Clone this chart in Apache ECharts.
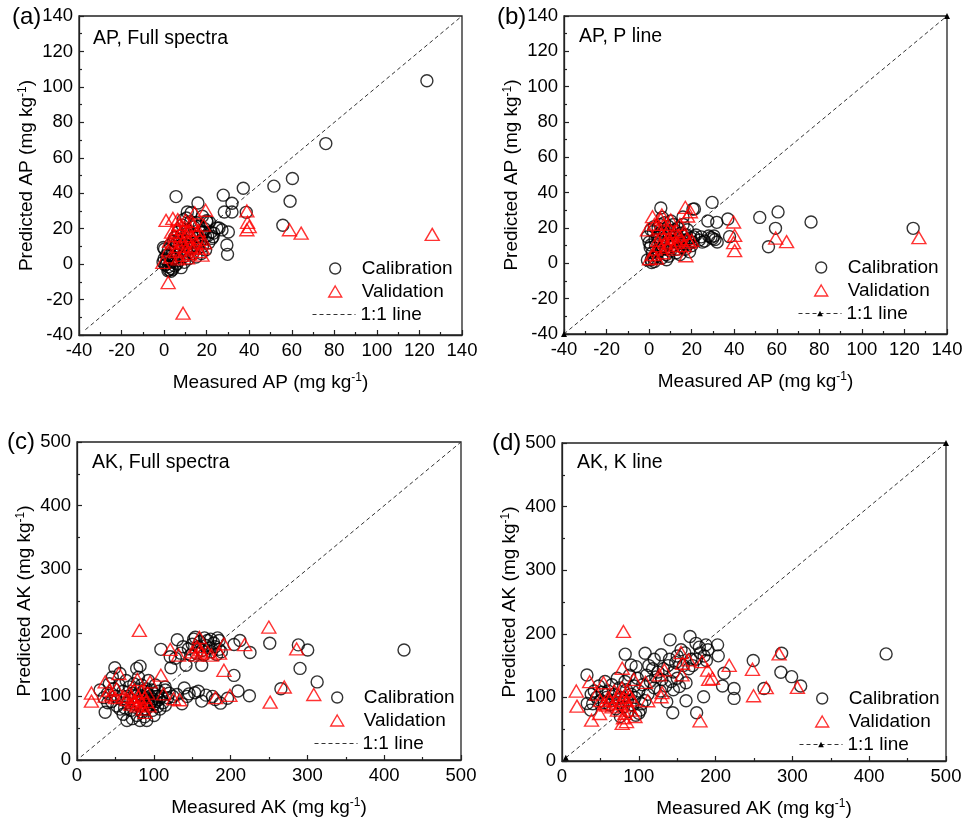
<!DOCTYPE html>
<html><head><meta charset="utf-8">
<script src="https://cdn.jsdelivr.net/npm/echarts@6/dist/echarts.min.js"></script>
<style>html,body{margin:0;padding:0;background:#fff}#c{width:968px;height:825px}</style>
</head><body><div id="c"></div>
<script>
// ---------- tick labels ----------
const ticksAP = [-40, -20, 0, 20, 40, 60, 80, 100, 120, 140];
const ticksAK = [0, 100, 200, 300, 400, 500];

// ---------- 1:1 lines ----------
const lineA = [[-37, -37], [140, 140]];
const lineB = [[-40, -40], [140, 140]];
const lineC = [[5, 5], [500, 500]];
const lineD = [[5, 5], [500, 500]];

// ---------- (a) AP, Full spectra ----------
const calA = [[123.5,103.5],[76,68],[60.3,48.3],[51.6,44],[59.2,35.5],[55.8,21.9],[37.2,42.8],[38.6,29.2],[27.8,38.9],[31.9,34.3],[31.9,29.4],[28.3,29.4],[30.2,18.1],[29.5,10.8],[29.8,5.5],[5.6,38.1],[15.9,34.5],[10.9,29.4],[25.8,20.4],[23.3,17.5],[21.3,23.6],[19.4,15.7],[-0.3,9.4],[2.2,-3.2],[27.2,19.3],[22.5,14.5],[24.8,20.4],[20.2,23.8],[18.5,18],[17,13],[16,9],[14.5,12],[13,16],[12,9],[11,6],[10,11],[9,4],[8,8],[7.5,14],[7,2],[6,5],[5.5,10],[5,-1],[4.5,3],[4,7],[3.5,-2.5],[3,1],[2.5,5],[2,-1.5],[1.5,2],[1,0],[0.5,-0.5],[0,3],[-0.5,1],[0.2,8.5],[1.8,-3.8],[3.2,-4],[6.5,18],[8.5,22],[10.5,17],[12.5,24],[14,21],[9.5,13.5],[11.5,3],[13.5,6],[15,4],[17.5,6],[18,10],[19.5,8],[20,24.5],[21,12],[22,18],[23,15.5],[16.5,21.5],[18,27],[7,10],[5,15],[3,11],[2,8],[1,5],[4,-3],[6,0],[8,-2],[9.5,1],[10,7.5],[12,12.5],[13.5,10],[16,15.5],[17,18],[19,20],[20.5,16],[11,19],[8,16],[6,12],[4.5,13],[14.5,17],[15,23.5],[10.5,26],[12.7,29],[9,25]];
const valA = [[126,16.8],[64.4,17.5],[58.9,19.4],[38.9,30],[39.2,23.6],[40,21.1],[38.9,19.4],[8.9,-27.7],[1.9,-10.4],[0.9,24.7],[4.1,25.8],[6.4,25.1],[10,24.7],[14.4,28.9],[19.5,30.4],[-0.6,1],[17.8,5.1],[15.2,17.5],[2,8],[3,4],[4,12],[5,16],[5.5,7],[6,20],[7,10],[7.5,14],[8,18],[8.5,5],[9,12],[9.5,21],[10,8],[10.5,16],[11,13],[11.5,19],[12,6],[12.5,10],[13,15],[13.5,22],[14,9],[15,12],[16,19],[16.5,7],[17,14],[18,9],[18.5,22],[19,12],[3.5,18],[6.5,3],[2.5,13],[7,22.5],[11,3.5],[13,24]];

// ---------- (b) AP, P line ----------
const calB = [[124.1,19.8],[76.1,23.4],[60.6,29.1],[59.4,19.8],[56.1,9.4],[52,26],[37,25.1],[37.8,15.1],[29.6,34.5],[31.8,23.2],[32,12.1],[27.6,24],[29.1,14.7],[29.9,14],[26.1,12.6],[21.3,30.8],[5.5,31.3],[22,16],[23.6,13.2],[24.5,15],[25,12],[28,15.5],[30.5,15.5],[31,13.5],[20.5,12],[19.5,14.5],[18.5,11],[17.5,16],[16.5,13],[15.5,9],[15,17],[14,12],[13,8],[12.5,15],[12,19],[11,10],[10.5,13],[10,7],[9.5,16],[9,21],[8.5,11],[8,5],[7.5,14],[7,18],[6.5,9],[6,3],[5.5,12],[5,22],[4.5,7],[4,15],[3.5,4],[3,10],[2.5,1],[2,18],[1.5,6],[1,2],[0.5,9],[0,12],[-0.8,15],[0.8,19],[1.2,0.5],[2.2,3],[2.4,20.8],[4.2,20],[6.2,26],[7.2,23],[8.2,2],[9.2,4],[10.2,24],[11.5,22],[12.8,6],[13.5,20],[14.5,5],[16,22],[17,8],[18,19],[19,6.5],[20,10],[21,15],[15.9,26.2],[20.6,30.7],[2.8,13.5],[5.2,17],[7.8,8],[9.8,18.5],[11.8,12],[13.8,14],[16.2,11],[18.2,13.5],[-0.8,1.9],[0.8,10.4]];
const valB = [[126.8,14.5],[64.6,12.3],[59.5,14.3],[39.7,23.4],[40.2,15.8],[39.7,11.7],[40.2,7.2],[17.3,4.3],[17,31.7],[19.4,29.2],[18.1,26.8],[-0.8,18.9],[1.6,26.4],[6,27.4],[10.2,24.5],[0.2,2.6],[2,5],[3,8],[4,13],[4.5,20],[5,10],[6,16],[6.5,6],[7,22],[7.5,12],[8,17],[8.5,9],[9,14],[9.5,20],[10,11],[11,15],[11.5,8],[12,18],[13,12],[14,16],[15,13],[16,17],[16.5,10],[18,14],[19,12],[20,13],[2.5,22],[3.5,3],[5.5,25],[14.5,22],[12.5,10]];

// ---------- (c) AK, Full spectra ----------
const calC = [[425.8,173],[251,183.6],[288.2,181],[300.4,173],[290.4,144],[312.7,122.8],[265.5,112],[224.5,101],[225.3,169],[212.2,187.8],[204.4,181.5],[204.4,133],[209.6,108.5],[185.2,188],[186.9,89.4],[176.4,100],[162.4,92.6],[162.4,149],[154,193],[130.6,189],[109.2,174],[121.4,162.4],[122.3,145],[141.9,149],[139.7,113.2],[153.3,105.8],[143.2,100],[136.7,88.4],[114.8,114.8],[36.7,75],[49.3,145],[55.9,136],[77.7,144],[82.1,147.6],[65,62],[82,62],[90.8,62],[100.4,70],[145,175],[150,182],[155,168],[158,178],[160,186],[163,172],[165,165],[168,180],[170,188],[172,176],[175,170],[178,184],[180,178],[182,166],[185,174],[188,170],[148,165],[152,190],[166,192],[174,190],[138,178],[135,168],[128,160],[183,192],[115,110],[120,105],[125,100],[130,103],[146,104],[158,108],[168,102],[196,97],[180,95],[30,110],[35,98],[40,105],[42,120],[45,92],[48,112],[50,100],[52,85],[55,118],[58,95],[60,108],[62,82],[64,125],[65,100],[66,90],[68,115],[70,78],[70,95],[72,105],[74,120],[75,88],[76,100],[78,70],[78,110],[80,92],[80,130],[82,85],[83,102],[84,118],[85,75],[86,95],[87,108],[88,88],[89,98],[90,80],[90,112],[91,104],[92,93],[93,125],[94,85],[95,100],[96,90],[97,110],[98,78],[99,96],[100,105],[101,88],[102,118],[103,92],[104,100],[105,84],[106,108],[107,95],[108,80],[110,100],[112,90],[115,86],[118,98],[72,65],[88,68],[60,72],[56,80],[46,130],[40,90]];
const valC = [[81.2,203.7],[249.8,209],[286,174.6],[269.9,114.8],[251.5,91],[308.3,103],[218.3,181.5],[199.1,101.6],[191.3,141],[191.3,182.5],[185.6,168],[180.3,98],[159.4,192.6],[156.3,178.3],[160.7,173],[132.3,165],[121.4,174],[109.2,133.3],[112.7,104],[125.8,96.3],[133.6,94.7],[95.2,122.8],[78.6,126.5],[54.6,136],[36.7,122.8],[18.8,105.3],[18.8,92.6],[36.7,100.5],[51.5,112],[88.6,75],[73.4,91],[60,100],[65,95],[68,105],[70,88],[72,98],[75,110],[76,92],[78,85],[80,100],[82,95],[84,108],[85,88],[86,80],[88,98],[90,92],[92,105],[94,85],[45,103],[50,98],[42,110],[155,165],[162,168],[170,170],[175,165],[150,170]];

// ---------- (d) AK, K line ----------
const calD = [[422,168.4],[286,169.5],[285,139.5],[299,132.6],[310.8,118],[263,114],[249,158],[224,98.4],[224,114],[209,118],[211,138],[202.6,182.6],[203.5,165.3],[187.4,182.6],[184.4,101],[175.3,75.8],[161.5,94.7],[166.7,195.8],[174.5,185],[178.8,179],[140.7,190.5],[144.2,75.8],[136.4,93],[108.2,169.5],[82.3,168],[90,151],[96.5,148.4],[32.5,135.3],[32.9,90.5],[37.2,80],[129,167],[152.8,117],[161.5,123],[180,170],[175,160],[170,150],[165,145],[160,170],[155,175],[150,165],[148,155],[145,140],[142,125],[140,160],[138,150],[135,118],[132,145],[130,128],[128,110],[125,140],[122,132],[120,115],[118,145],[115,125],[112,105],[110,135],[108,95],[105,120],[102,80],[100,110],[98,130],[96,72],[95,100],[94,118],[92,88],[90,105],[88,135],[86,78],[85,95],[84,112],[82,125],[80,85],[78,100],[76,70],[75,115],[74,92],[72,130],[70,82],[68,105],[66,95],[65,120],[62,88],[60,110],[58,100],[56,125],[55,92],[52,108],[50,95],[48,118],[45,100],[42,110],[40,90],[38,105],[100,75],[104,90],[150,130],[158,150],[168,160],[185,165],[190,175],[120,160],[113,150],[145,112],[188,158]];
const valD = [[80,203.7],[18.6,110],[19.5,86.3],[38.5,64.2],[36,124.7],[48.9,74.7],[54.1,123],[78.4,59],[78.4,145.8],[93.5,128.4],[108.7,123.7],[111.7,94.7],[126.8,135.3],[129,101],[133.3,143.2],[130.3,107.4],[156.3,135.3],[155,170.5],[157,153.7],[165,159],[179.7,63.2],[182.3,156.3],[189.6,143],[191,128.4],[196,130],[217.7,150.5],[248,144.2],[249.4,102.6],[266,115.3],[282.7,168.4],[306.5,115.8],[45,105],[50,95],[55,90],[60,100],[65,85],[68,110],[70,95],[72,80],[74,105],[76,90],[78,115],[80,100],[82,75],[84,95],[85,110],[86,88],[88,102],[90,80],[92,96],[95,70],[80,68],[84,62],[58,88],[62,96]];

// ---------- text ----------
const letters = ['(a)', '(b)', '(c)', '(d)'];
const titles = ['AP, Full spectra', 'AP, P line', 'AK, Full spectra', 'AK, K line'];
const xNames = ['Measured AP', 'Measured AP', 'Measured AK', 'Measured AK'];
const yNames = ['Predicted AP', 'Predicted AP', 'Predicted AK', 'Predicted AK'];
const legendNames = ['Calibration', 'Validation', '1:1 line'];

// ---------- layout ----------
const FONT = 'Liberation Sans, Arial, Helvetica, sans-serif';
const TRI_ICON = 'path://M6.5,0L13,11L0,11Z';
const panels = [
  {id:'a', grid:{left:79, top:16, width:383, height:319}, ticks:ticksAP, cal:calA, val:valA, line:lineA, sym:false,
   letter:{left:12, top:5}, title:{left:93, top:29}, leg:{left:312, top:259}},
  {id:'b', grid:{left:564, top:16, width:383, height:318}, ticks:ticksAP, cal:calB, val:valB, line:lineB, sym:true,
   letter:{left:497, top:5}, title:{left:579, top:27}, leg:{left:798, top:258}},
  {id:'c', grid:{left:77, top:442, width:384, height:318}, ticks:ticksAK, cal:calC, val:valC, line:lineC, sym:false,
   letter:{left:7, top:430}, title:{left:92, top:453}, leg:{left:314, top:688}},
  {id:'d', grid:{left:562, top:443, width:384, height:318}, ticks:ticksAK, cal:calD, val:valD, line:lineD, sym:true,
   letter:{left:492, top:431}, title:{left:577, top:453}, leg:{left:799, top:689}}
];

const AX = '#222';
const nameStyle = {fontSize:19, color:'#000', fontFamily:FONT, lineHeight:22,
  rich:{sup:{fontSize:12, color:'#000', fontFamily:FONT, verticalAlign:'top', lineHeight:12}}};

const option = {animation:false, backgroundColor:'#fff', grid:[], xAxis:[], yAxis:[], series:[], legend:[], title:[]};

panels.forEach((p, i) => {
  const t = p.ticks;
  const step = t[1] - t[0];
  option.grid.push(Object.assign({show:true, borderColor:AX, borderWidth:1.3, backgroundColor:'transparent'}, p.grid));
  const common = {
    gridIndex:i, type:'value', min:t[0], max:t[t.length-1], interval:step,
    axisLine:{show:true, onZero:false, lineStyle:{color:AX, width:1.3}},
    axisTick:{show:true, inside:true, length:5, lineStyle:{color:AX, width:1.2}},
    minorTick:{show:true, splitNumber:2, length:3, lineStyle:{color:AX, width:1.2}},
    splitLine:{show:false},
    axisLabel:{fontSize:18.5, color:'#000', fontFamily:FONT, margin:6, showMinLabel:true, showMaxLabel:true},
    nameLocation:'middle', nameTextStyle:nameStyle
  };
  option.xAxis.push(Object.assign({}, common, {name: xNames[i] + ' (mg kg{sup|-1})', nameGap:37}));
  option.yAxis.push(Object.assign({}, common, {name: yNames[i] + ' (mg kg{sup|-1})', nameGap:35}));

  option.series.push({
    name:p.id+'|'+legendNames[2], type:'line', xAxisIndex:i, yAxisIndex:i, data:p.line,
    symbol:p.sym ? 'triangle' : 'none', symbolSize:6, showSymbol:true, silent:true, z:1,
    itemStyle:{color:p.sym ? '#000' : 'rgba(0,0,0,0)'},
    lineStyle:{color:'#333', width:1, type:[4,3]}
  });
  option.series.push({
    name:p.id+'|'+legendNames[0], type:'scatter', xAxisIndex:i, yAxisIndex:i, data:p.cal,
    symbol:'circle', symbolSize:12, z:2, silent:true,
    itemStyle:{color:'rgba(0,0,0,0)', borderColor:'#000', borderWidth:1.4}
  });
  option.series.push({
    name:p.id+'|'+legendNames[1], type:'scatter', xAxisIndex:i, yAxisIndex:i, data:p.val,
    symbol:'triangle', symbolSize:[14,12], z:3, silent:true,
    itemStyle:{color:'rgba(0,0,0,0)', borderColor:'#ff0000', borderWidth:1.4}
  });

  const fmt = n => n.split('|')[1];
  option.legend.push({
    data:[{name:p.id+'|'+legendNames[0], icon:'circle'}, {name:p.id+'|'+legendNames[1], icon:TRI_ICON}],
    orient:'vertical', symbolKeepAspect:true,
    left:p.leg.left + 16, top:p.leg.top, itemWidth:43, itemHeight:11, itemGap:4, padding:0,
    selectedMode:false, formatter:fmt,
    textStyle:{fontSize:19, color:'#000', fontFamily:FONT},
    itemStyle:{borderWidth:1.4}
  });
  option.legend.push({
    data:[p.id+'|'+legendNames[2]], orient:'vertical',
    left:p.leg.left, top:p.leg.top + 46, itemWidth:43, itemHeight:7, itemGap:4, padding:0,
    selectedMode:false, formatter:fmt,
    textStyle:{fontSize:19, color:'#000', fontFamily:FONT},
    lineStyle:{width:1}, itemStyle:{borderWidth:0}
  });

  option.title.push({text:letters[i], left:p.letter.left, top:p.letter.top, padding:0,
    textStyle:{fontSize:24, fontWeight:'normal', color:'#000', fontFamily:FONT}});
  option.title.push({text:titles[i], left:p.title.left, top:p.title.top, padding:0,
    textStyle:{fontSize:19.5, fontWeight:'normal', color:'#000', fontFamily:FONT}});
});

const chart = echarts.init(document.getElementById('c'), null, {renderer:'canvas'});
chart.setOption(option);
</script></body></html>
